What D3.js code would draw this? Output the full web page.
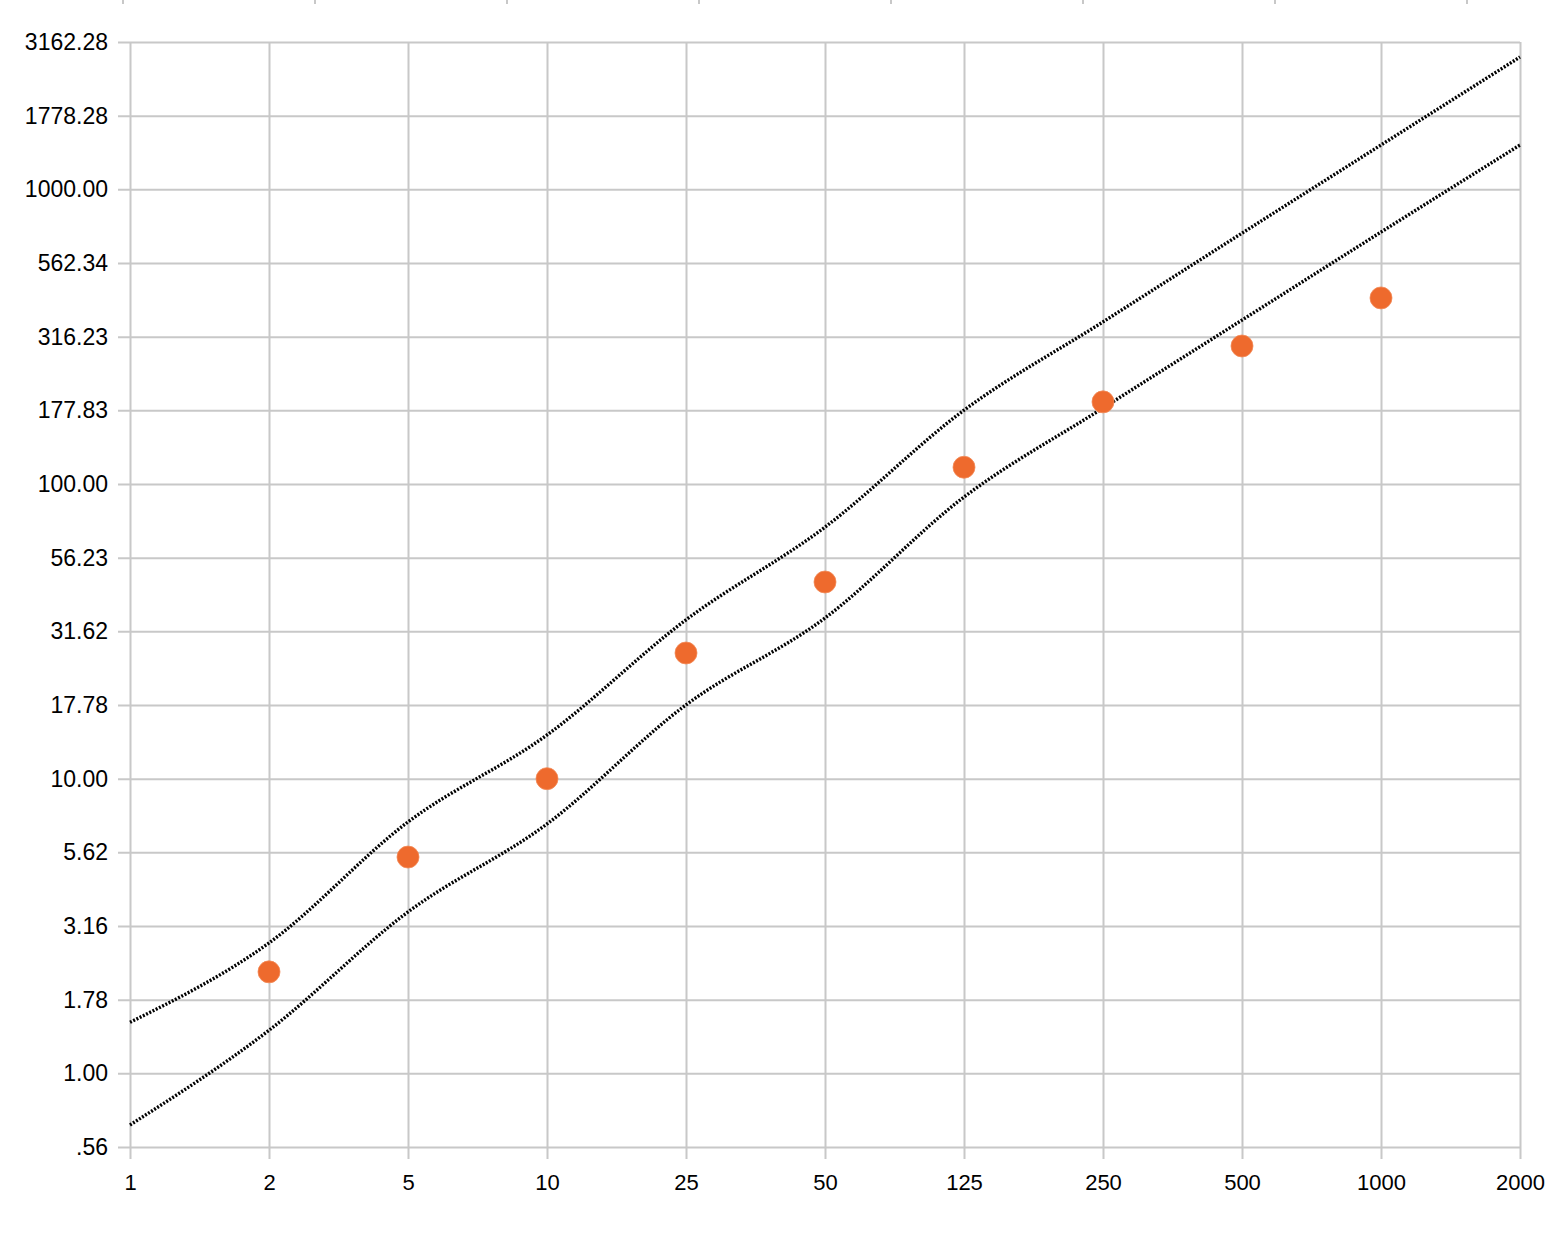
<!DOCTYPE html>
<html><head><meta charset="utf-8">
<script src="https://cdn.jsdelivr.net/npm/d3@7"></script>
<style>body{margin:0;background:#fff} svg text{font-family:"Liberation Sans",Arial,sans-serif;fill:#000}</style>
</head><body><svg id="c" width="1556" height="1234"></svg>
<script>
const categories = ["1","2","5","10","25","50","125","250","500","1000","2000"];
const pointValues = [null,2.21,5.42,10.0,26.7,46.5,114,190,294,428,null];
const upperBand = [1.49,2.77,7.13,14.07,34.6,71.4,178,355,710,1414,2812];
const lowerBand = [0.668,1.40,3.53,7.02,17.8,35.1,90.3,181,360,716,1414];
const yTickValues = [0.5623,1,1.7783,3.1623,5.6234,10,17.783,31.623,56.234,100,177.83,316.23,562.34,1000,1778.28,3162.28];
const yTickLabels = [".56","1.00","1.78","3.16","5.62","10.00","17.78","31.62","56.23","100.00","177.83","316.23","562.34","1000.00","1778.28","3162.28"];

const svg = d3.select("#c");
const L = 130, R = 1520, T = 42, B = 1147;
const x = d3.scalePoint().domain(categories).range([L, R]);
const y = d3.scaleLog().domain([Math.pow(10,-0.25), Math.pow(10,3.5)]).range([B, T]);
const grid = "#c8c8c8";

// stray ticks at the very top edge (from a cropped element above)
const topTick = d3.scaleLinear().domain([0,7]).range([123,1467]);
svg.append("g").selectAll("line").data(d3.range(8)).join("line")
  .attr("x1", d => topTick(d)).attr("x2", d => topTick(d))
  .attr("y1", 0).attr("y2", 4).attr("stroke", grid).attr("stroke-width", 2);

// y axis with horizontal grid
const yAxis = svg.append("g").attr("transform", `translate(${R},0)`)
  .call(d3.axisLeft(y).tickValues(yTickValues)
    .tickFormat((d,i) => yTickLabels[i]).tickSize(R - 118).tickPadding(10));
yAxis.select(".domain").remove();
yAxis.selectAll(".tick line").attr("stroke", grid).attr("stroke-width", 2);
yAxis.selectAll(".tick text").style("font-size", "23px").attr("fill", "#000");

// x axis with vertical grid
const xAxis = svg.append("g").attr("transform", `translate(0,${T})`)
  .call(d3.axisBottom(x).tickSize(1159 - T).tickPadding(15));
xAxis.select(".domain").remove();
xAxis.selectAll(".tick line").attr("stroke", grid).attr("stroke-width", 2);
xAxis.selectAll(".tick text").style("font-size", "22px").attr("fill", "#000");

// bands
const line = d3.line().x((d,i) => x(categories[i])).y(d => y(d)).curve(d3.curveMonotoneX);
[upperBand, lowerBand].forEach(arr => {
  svg.append("path").datum(arr).attr("d", line)
    .attr("fill", "none").attr("stroke", "#000").attr("stroke-width", 3.4)
    .attr("stroke-dasharray", "2,1.6");
});

// points
svg.append("g").selectAll("circle")
  .data(pointValues.map((v,i) => ({c: categories[i], v})).filter(d => d.v != null))
  .join("circle")
  .attr("cx", d => x(d.c)).attr("cy", d => y(d.v)).attr("r", 11)
  .attr("fill", "#EE6A2D").attr("stroke", "#F28A58").attr("stroke-width", 0.8);
</script></body></html>
